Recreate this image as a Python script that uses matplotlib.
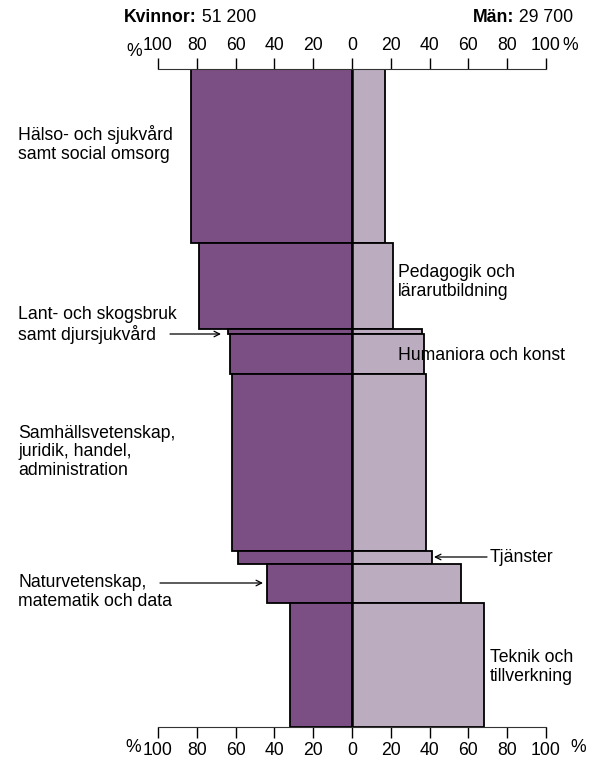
import numpy as np
import matplotlib
matplotlib.use("Agg")
import matplotlib.pyplot as plt

plt.rcParams['font.family'] = ['Liberation Sans', 'DejaVu Sans']

# antal studenter (tusental) och andel kvinnor/män (%)
omraden = ["Hälso- och sjukvård samt social omsorg", "Pedagogik och lärarutbildning",
           "Lant- och skogsbruk samt djursjukvård", "Humaniora och konst",
           "Samhällsvetenskap, juridik, handel, administration", "Tjänster",
           "Naturvetenskap, matematik och data", "Teknik och tillverkning"]
antal = [21.4, 10.5, 0.7, 4.8, 21.8, 1.6, 4.8, 15.2]
kvinnor = [83, 79, 64, 63, 62, 59, 44, 32]
man = [17, 21, 36, 37, 38, 41, 56, 68]
ticks = [-100, -80, -60, -40, -20, 0, 20, 40, 60, 80, 100]

dark = "#7b4f83"
light = "#bbadbf"

fig = plt.figure(figsize=(6.1, 7.6), dpi=100)
ax = fig.add_axes([158/610, 1-727/760, 388/610, 658/760])

total = sum(antal)
start = np.concatenate([[0], np.cumsum(antal)[:-1]])
mid = start + np.array(antal) / 2

ax.barh(mid, -np.array(kvinnor), height=antal, color=dark, edgecolor="black", linewidth=1.3)
ax.barh(mid, man, height=antal, color=light, edgecolor="black", linewidth=1.3)
ax.axvline(0, color="black", linewidth=1.8)

ax.set_xlim(-100, 100)
ax.set_ylim(total, 0)
for s in ["left", "right"]:
    ax.spines[s].set_visible(False)
ax.spines["top"].set_color("#333333")
ax.spines["bottom"].set_color("#333333")
ax.set_yticks([])
ax.set_xticks(ticks)
ax.set_xticklabels([str(abs(t)) for t in ticks])
ax.tick_params(axis="x", top=True, labeltop=True, bottom=True, labelbottom=True,
               direction="out", length=8, width=1, labelsize=12.7, pad=3)

def px(x):
    return (x - 352) / 1.94

def py(y):
    return (y - 69) / 658 * total

fs = 12.7
kw = dict(fontsize=fs, linespacing=1.1, va="center", clip_on=False)
ax.text(px(126), py(51), "%", ha="left", **kw)
ax.text(px(562), py(46), "%", ha="left", **kw)
ax.text(px(125), py(748), "%", ha="left", **kw)
ax.text(px(570), py(748), "%", ha="left", **kw)

ax.text(px(18), py(144), "Hälso- och sjukvård\nsamt social omsorg", ha="left", **kw)
ax.text(px(398), py(282), "Pedagogik och\nlärarutbildning", ha="left", **kw)
ax.text(px(18), py(325), "Lant- och skogsbruk\nsamt djursjukvård", ha="left", **kw)
ax.text(px(398), py(356), "Humaniora och konst", ha="left", **kw)
ax.text(px(18), py(452), "Samhällsvetenskap,\njuridik, handel,\nadministration", ha="left", **kw)
ax.text(px(490), py(557), "Tjänster", ha="left", **kw)
ax.text(px(18), py(592), "Naturvetenskap,\nmatematik och data", ha="left", **kw)
ax.text(px(490), py(667), "Teknik och\ntillverkning", ha="left", **kw)

ap = dict(arrowstyle="->", color="black", lw=0.9, shrinkA=0, shrinkB=0)
ax.annotate("", xy=(px(221), py(334)), xytext=(px(170), py(334)), arrowprops=ap, annotation_clip=False)
ax.annotate("", xy=(px(434), py(557)), xytext=(px(487), py(557)), arrowprops=ap, annotation_clip=False)
ax.annotate("", xy=(px(263), py(583)), xytext=(px(160), py(583)), arrowprops=ap, annotation_clip=False)

t1 = fig.text(124/610, 1-18/760, "Kvinnor:", fontsize=fs, fontweight="bold", va="center")
ax.annotate(" 51 200", xy=(1, 0), xycoords=t1, va="bottom", ha="left", fontsize=fs)
t2 = fig.text(473/610, 1-18/760, "Män:", fontsize=fs, fontweight="bold", va="center")
ax.annotate(" 29 700", xy=(1, 0), xycoords=t2, va="bottom", ha="left", fontsize=fs)

fig.savefig("out.png", dpi=100)
